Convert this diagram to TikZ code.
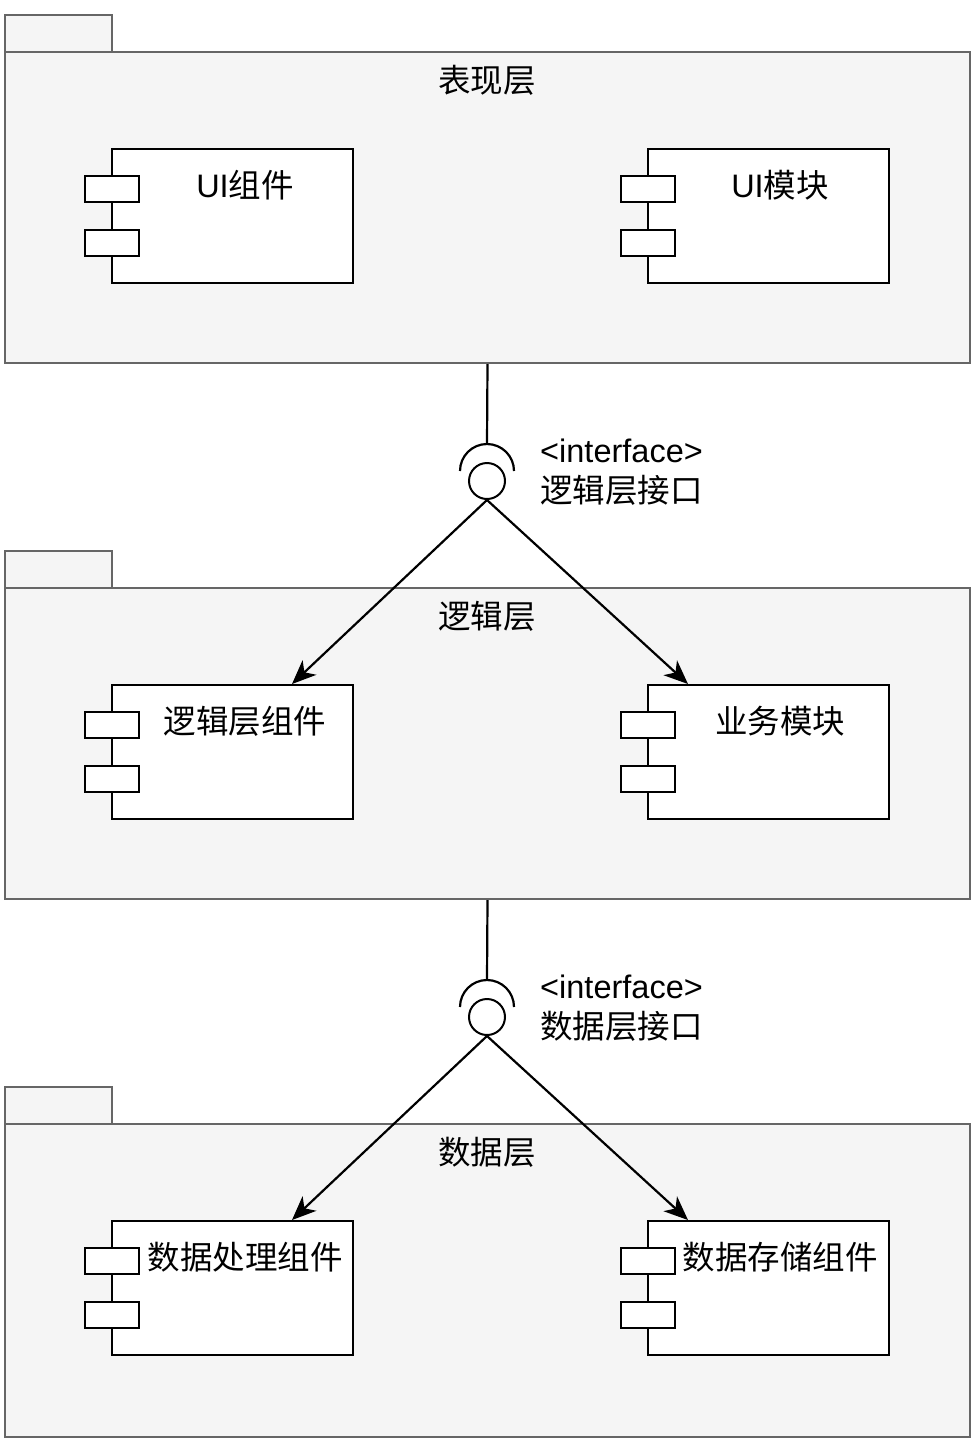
\documentclass[tikz,border=0pt]{standalone}
\usepackage{fontspec}
\setmainfont{Liberation Sans}
\newfontfamily\cjk{Noto Sans CJK SC}
\usetikzlibrary{arrows.meta,calc}
\definecolor{pkgf}{HTML}{F5F5F5}
\definecolor{pkgd}{HTML}{666666}
\tikzset{
  pkgbox/.style={draw=pkgd, fill=pkgf, line width=2pt, rectangle, inner sep=0pt, minimum width=965pt, minimum height=311pt},
  pkgtab/.style={draw=pkgd, fill=pkgf, line width=2pt, rectangle, inner sep=0pt, minimum width=107pt, minimum height=37pt},
  compbox/.style={draw=black, fill=white, line width=2pt, rectangle, inner sep=0pt, minimum width=241pt, minimum height=134pt},
  lug/.style={draw=black, fill=white, line width=2pt, rectangle, inner sep=0pt, minimum width=54pt, minimum height=26pt},
  txt/.style={inner sep=0pt, font=\fontsize{32.5}{39}\selectfont},
  ball/.style={draw=black, fill=white, line width=2pt, circle, inner sep=0pt, minimum size=36pt},
  socket/.style={draw=black, line width=2.2pt},
  conn/.style={draw=black, line width=2.2pt},
  arr/.style={draw=black, line width=2.2pt, -{Stealth[length=24pt, width=20pt, inset=7pt]}}
}
\begin{document}
\begin{tikzpicture}[x=1pt,y=-1pt]
\useasboundingbox (0,0) rectangle (978,1444);

% ---------- package 1 ----------
\node[pkgtab] (t1) at (58.5,33.5) {};
\node[pkgbox] (p1) at (487.5,207.5) {};
\node[txt] (h1) at (487,80) {\cjk 表现层};
\node[compbox] (c1) at (232.5,216) {};
\node[lug] (c1a) at (112,189) {};
\node[lug] (c1b) at (112,242.5) {};
\node[txt] (l1) at (245,185) {UI{\cjk 组件}};
\node[compbox] (c2) at (768.5,216) {};
\node[lug] (c2a) at (648,189) {};
\node[lug] (c2b) at (648,242.5) {};
\node[txt] (l2) at (780,185) {UI{\cjk 模块}};

% ---------- package 2 ----------
\node[pkgtab] (t2) at (58.5,569.5) {};
\node[pkgbox] (p2) at (487.5,743.5) {};
\node[txt] (h2) at (487,616) {\cjk 逻辑层};
\node[compbox] (c3) at (232.5,752) {};
\node[lug] (c3a) at (112,725) {};
\node[lug] (c3b) at (112,778.5) {};
\node[txt] (l3) at (245,721) {\cjk 逻辑层组件};
\node[compbox] (c4) at (768.5,752) {};
\node[lug] (c4a) at (648,725) {};
\node[lug] (c4b) at (648,778.5) {};
\node[txt] (l4) at (780,721) {\cjk 业务模块};

% ---------- package 3 ----------
\node[pkgtab] (t3) at (58.5,1105.5) {};
\node[pkgbox, minimum height=313pt] (p3) at (487.5,1280.5) {};
\node[txt] (h3) at (487,1152) {\cjk 数据层};
\node[compbox] (c5) at (232.5,1288) {};
\node[lug] (c5a) at (112,1261) {};
\node[lug] (c5b) at (112,1314.5) {};
\node[txt] (l5) at (245,1257) {\cjk 数据处理组件};
\node[compbox] (c6) at (768.5,1288) {};
\node[lug] (c6a) at (648,1261) {};
\node[lug] (c6b) at (648,1314.5) {};
\node[txt] (l6) at (780,1257) {\cjk 数据存储组件};

% ---------- interface 1 ----------
\node[ball] (i1) at (487,481) {};
\draw[socket] (460,471) arc[start angle=180, end angle=0, radius=27pt];
\coordinate (s1) at (487,444);
\draw[conn] (p1.south) -- (s1);
\node[txt, anchor=west] (n1a) at (540,451) {<interface>};
\node[txt, anchor=west] (n1b) at (540,490) {\cjk 逻辑层接口};
\draw[arr] (i1.south) -- ([xshift=59.5pt]c3.north);
\draw[arr] (i1.south) -- ([xshift=-80.5pt]c4.north);

% ---------- interface 2 ----------
\node[ball] (i2) at (487,1017) {};
\draw[socket] (460,1007) arc[start angle=180, end angle=0, radius=27pt];
\coordinate (s2) at (487,980);
\draw[conn] (p2.south) -- (s2);
\node[txt, anchor=west] (n2a) at (540,987) {<interface>};
\node[txt, anchor=west] (n2b) at (540,1026) {\cjk 数据层接口};
\draw[arr] (i2.south) -- ([xshift=59.5pt]c5.north);
\draw[arr] (i2.south) -- ([xshift=-80.5pt]c6.north);
\end{tikzpicture}
\end{document}
